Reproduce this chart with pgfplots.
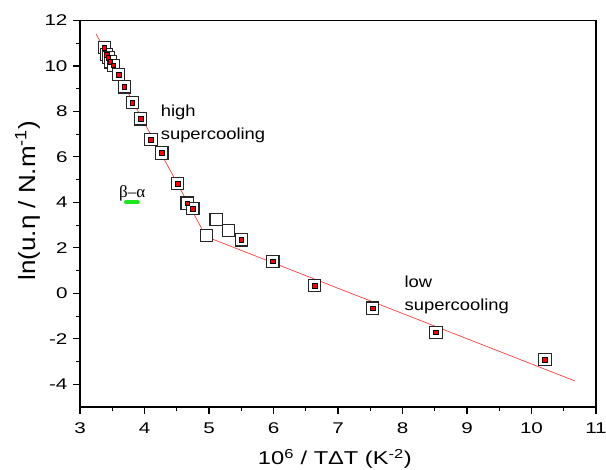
\documentclass[border=0pt]{standalone}
\usepackage{pgfplots}
\pgfplotsset{compat=1.18}
\usepackage{fontspec}
\setmainfont{Liberation Sans}
\newfontfamily\seriffont{Liberation Serif}
\definecolor{lred}{RGB}{255,60,60}
\definecolor{bgreen}{RGB}{30,230,30}
\newcommand{\wide}[2][1.3]{\scalebox{#1}[1]{#2}}
\begin{document}
\begin{tikzpicture}
\begin{axis}[
  scale only axis, width=516pt, height=386.5pt,
  xmin=3, xmax=11, ymin=-5, ymax=12,
  xtick={3,4,...,11}, ytick={-4,-2,...,12},
  minor x tick num=1, minor y tick num=1,
  tick align=outside, tick pos=left,
  major tick length=7pt, minor tick length=4pt,
  axis line style={line width=1.2pt},
  every tick/.style={black, line width=1.1pt},
  tick label style={font=\fontsize{15.5}{18}\selectfont},
  xticklabel style={yshift=-5pt},
  yticklabel style={xshift=-2pt},
  xticklabel={\wide[1.33]{\pgfmathprintnumber[assume math mode=true]{\tick}}},
  yticklabel={\wide[1.33]{\pgfmathprintnumber[assume math mode=true]{\tick}}},
  xlabel={\wide[1.27]{10\textsuperscript{6} / TΔT (K\textsuperscript{-2})}},
  ylabel={\scalebox{1.3}[1.17]{ln(u.η / N.m\textsuperscript{-1})}},
  xlabel style={font=\fontsize{18.6}{22}\selectfont, at={(axis description cs:0.494,-0.150)}, anchor=base},
  ylabel style={font=\fontsize{20}{22}\selectfont, at={(axis description cs:-0.1017,0.534)}, anchor=center},
  clip=false,
]
\coordinate (ll) at (rel axis cs:0,0);
\coordinate (ur) at (rel axis cs:1,1);
% fit lines
\addplot[lred, line width=0.7pt] coordinates {(3.248,11.42) (4.89,2.84)};
\addplot[lred, line width=0.7pt] coordinates {(5.04,2.40) (10.67,-3.85)};
% open squares (all data)
\addplot[only marks, mark=square*, mark size=6.1pt,
  mark options={fill=white, draw=black!85, line width=1.1pt}] coordinates {
(3.376,10.80) (3.413,10.50) (3.438,10.36) (3.469,10.18) (3.515,10.03)
(3.599,9.62) (3.686,9.08) (3.81,8.39) (3.94,7.67) (4.10,6.76)
(4.27,6.17) (4.51,4.83) (4.66,3.97) (4.75,3.73)
(4.964,2.55) (5.11,3.245) (5.30,2.75)
(5.50,2.35) (5.99,1.41) (6.64,0.33) (7.54,-0.65) (8.52,-1.71) (10.21,-2.92)
};
% red filled points
\addplot[only marks, mark=square*, mark size=2.35pt,
  mark options={fill=red, draw=none}] coordinates {
(3.376,10.80) (3.413,10.50) (3.438,10.36) (3.469,10.18) (3.515,10.03)
(3.599,9.62) (3.686,9.08) (3.81,8.39) (3.94,7.67) (4.10,6.76)
(4.27,6.17) (4.51,4.83) (4.66,3.97) (4.75,3.73)
(5.50,2.35) (5.99,1.41) (6.64,0.33) (7.54,-0.65) (8.52,-1.71) (10.21,-2.92)
};
% beta-alpha marker
\addplot[bgreen, line width=3.5pt, line cap=round] coordinates {(3.71,4.01) (3.90,4.01)};
\node[font=\seriffont\fontsize{17}{19}\selectfont, inner sep=0pt, anchor=base] at (axis cs:3.81,4.22) {β–α};
% annotations
\node[font=\fontsize{16}{19}\selectfont, inner sep=0pt, anchor=base west] at (axis cs:4.25,7.76) {\wide[1.15]{high}};
\node[font=\fontsize{16}{19}\selectfont, inner sep=0pt, anchor=base west] at (axis cs:4.25,6.76) {\wide[1.15]{supercooling}};
\node[font=\fontsize{16}{19}\selectfont, inner sep=0pt, anchor=base west] at (axis cs:8.03,0.24) {\wide[1.15]{low}};
\node[font=\fontsize{16}{19}\selectfont, inner sep=0pt, anchor=base west] at (axis cs:8.03,-0.745) {\wide[1.15]{supercooling}};
\end{axis}
\pgfresetboundingbox
\path ([xshift=-80pt,yshift=-62pt]ll) rectangle ([xshift=10pt,yshift=20.5pt]ur);
\end{tikzpicture}
\end{document}
